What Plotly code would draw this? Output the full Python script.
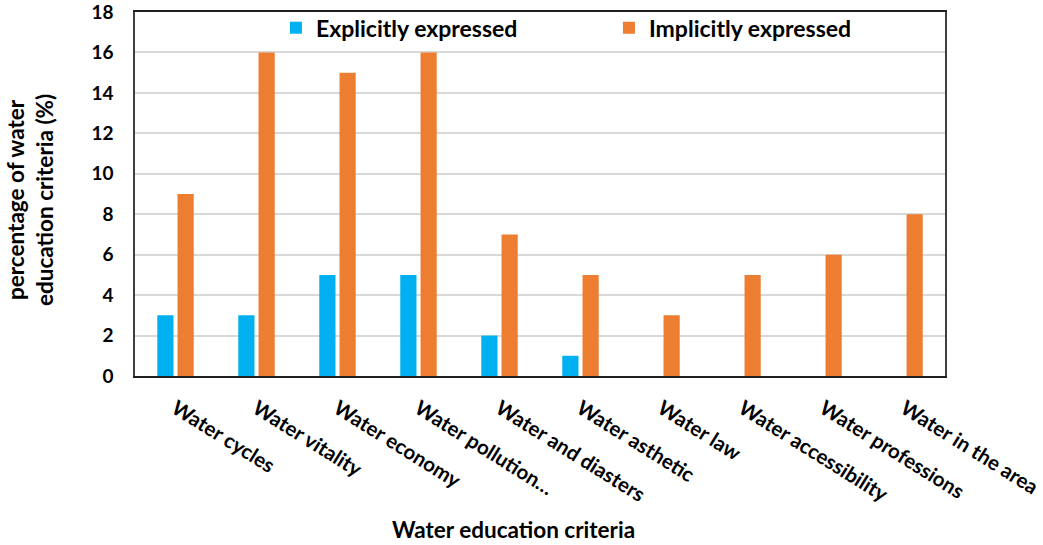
import plotly.graph_objects as go

categories = ["Water cycles", "Water vitality", "Water economy", "Water pollution\u2026",
              "Water and diasters", "Water asthetic", "Water law", "Water accessibility",
              "Water professions", "Water in the area"]
explicit = [3, 3, 5, 5, 2, 1, 0, 0, 0, 0]
implicit = [9, 16, 15, 16, 7, 5, 3, 5, 6, 8]
y_ticks = [0, 2, 4, 6, 8, 10, 12, 14, 16, 18]

FONT = "Lato"
TITLE_FONT = dict(family=FONT, size=22.5, color="black", weight="bold")
fig = go.Figure()
fig.add_trace(go.Bar(name="Explicitly expressed", x=categories, y=explicit,
                     marker=dict(color="#00B0F0", line=dict(width=0))))
fig.add_trace(go.Bar(name="Implicitly expressed", x=categories, y=implicit,
                     marker=dict(color="#ED7D31", line=dict(width=0))))

fig.update_layout(
    width=1043, height=545,
    margin=dict(l=135, r=98, t=12, b=169, autoexpand=False),
    paper_bgcolor="white", plot_bgcolor="white",
    barmode="group", bargap=0.5, bargroupgap=0.2,
    font=dict(family=FONT, color="black"),
    legend=dict(orientation="h", x=0.174, y=1.016, xanchor="left", yanchor="top",
                entrywidth=288, entrywidthmode="pixels",
                font=dict(family=FONT, size=23, color="black", weight="bold"),
                bgcolor="rgba(0,0,0,0)"),
    showlegend=True,
)
fig.update_yaxes(range=[0, 18], tickvals=y_ticks, showgrid=True, gridcolor="#D9D9D9",
                 gridwidth=1.5, zeroline=False, showline=True, linecolor="#404040",
                 linewidth=1.5, mirror=True, ticks="", ticklabelstandoff=16,
                 automargin=False, ticklabeloverflow="allow",
                 tickfont=dict(family=FONT, size=19, color="black", weight="bold"))
fig.update_xaxes(showline=True, linecolor="#202020", linewidth=1.5, mirror=True,
                 tickangle=32, ticks="", ticklabelstandoff=11, automargin=False,
                 ticklabeloverflow="allow",
                 tickfont=dict(family=FONT, size=20.5, color="black", weight="bold"))

# axis titles placed as annotations (positions relative to the plot area)
fig.add_annotation(text="percentage of water<br>education criteria (%)",
                   xref="paper", yref="paper", x=0, y=0.4835, xshift=-105,
                   xanchor="center", yanchor="middle", textangle=-90,
                   showarrow=False, font=TITLE_FONT)
fig.add_annotation(text="Water education criteria",
                   xref="paper", yref="paper", x=0.467, y=0, yshift=-153,
                   xanchor="center", yanchor="middle",
                   showarrow=False, font=TITLE_FONT)

fig.write_html("out.html", config={"displayModeBar": False},
               post_script="document.body.style.margin='0';")
